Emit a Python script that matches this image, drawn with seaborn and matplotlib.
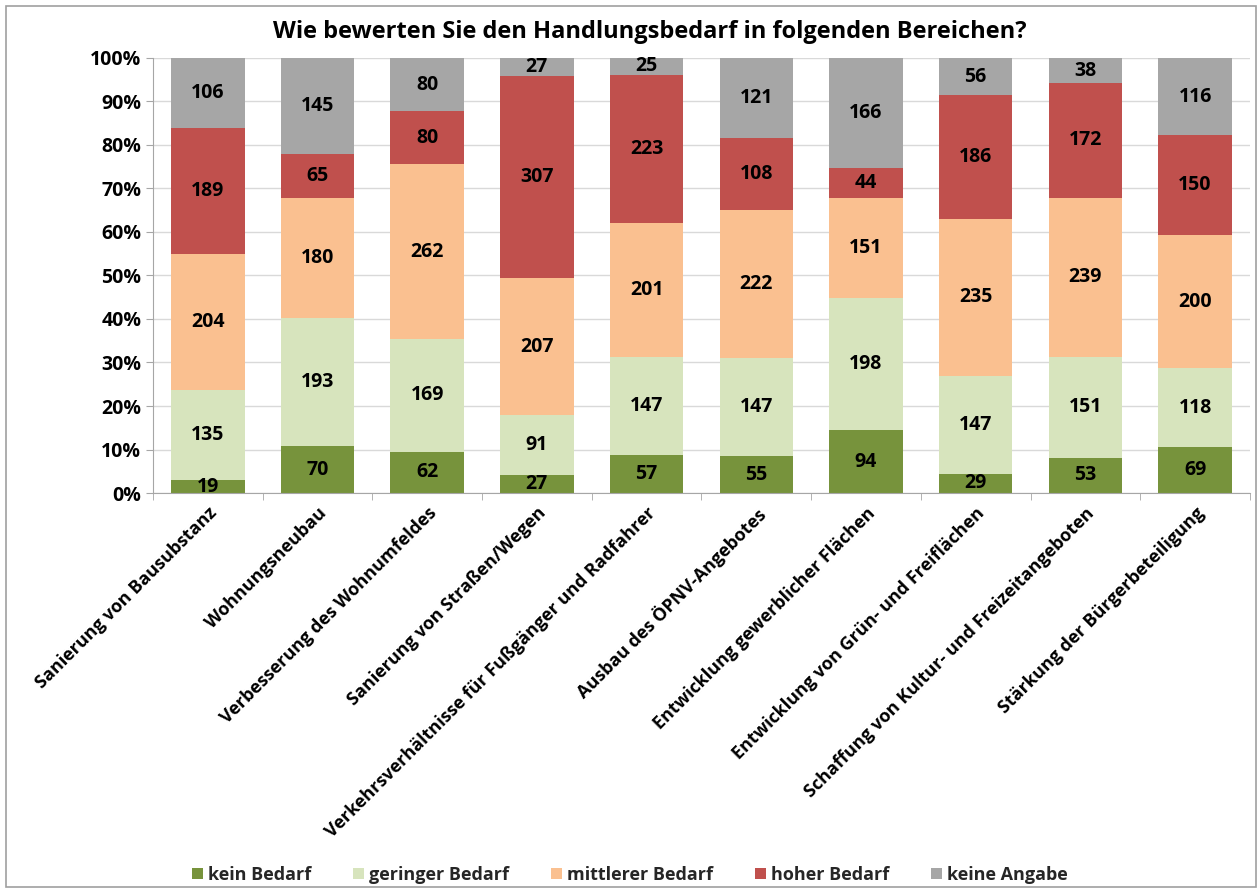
import numpy as np
import pandas as pd
import matplotlib
matplotlib.use("Agg")
import matplotlib.pyplot as plt
import seaborn as sns
from matplotlib.patches import Rectangle
from matplotlib.ticker import PercentFormatter

# Categories and counts per answer
categories = [
    "Sanierung von Bausubstanz",
    "Wohnungsneubau",
    "Verbesserung des Wohnumfeldes",
    "Sanierung von Straßen/Wegen",
    "Verkehrsverhältnisse für Fußgänger und Radfahrer",
    "Ausbau des ÖPNV-Angebotes",
    "Entwicklung gewerblicher Flächen",
    "Entwicklung von Grün- und Freiflächen",
    "Schaffung von Kultur- und Freizeitangeboten",
    "Stärkung der Bürgerbeteiligung",
]
series_names = ["kein Bedarf", "geringer Bedarf", "mittlerer Bedarf",
                "hoher Bedarf", "keine Angabe"]
kein = [19, 70, 62, 27, 57, 55, 94, 29, 53, 69]
gering = [135, 193, 169, 91, 147, 147, 198, 147, 151, 118]
mittel = [204, 180, 262, 207, 201, 222, 151, 235, 239, 200]
hoch = [189, 65, 80, 307, 223, 108, 44, 186, 172, 150]
keine = [106, 145, 80, 27, 25, 121, 166, 56, 38, 116]
colors = ["#77933C", "#D7E4BD", "#FAC090", "#C0504D", "#A6A6A6"]

counts = pd.DataFrame(
    {"kein Bedarf": kein, "geringer Bedarf": gering, "mittlerer Bedarf": mittel,
     "hoher Bedarf": hoch, "keine Angabe": keine},
    index=categories,
)
shares = counts.div(counts.sum(axis=1), axis=0)

sns.set_style("white")
plt.rcParams["font.family"] = ["Open Sans", "DejaVu Sans"]
plt.rcParams["font.weight"] = "bold"

fig = plt.figure(figsize=(12.6, 8.9), dpi=100)
ax = fig.add_axes([0.1214, 0.446, 0.8706, 0.489])

# Stack the series one on top of the other
bottom = np.zeros(len(categories))
for name, col in zip(series_names, colors):
    sns.barplot(x=categories, y=shares[name].values, bottom=bottom, color=col,
                width=0.67, ax=ax, label=name, saturation=1, linewidth=0)
    ax.bar_label(ax.containers[-1], labels=counts[name].values,
                 label_type="center", fontsize=14, fontweight="bold", color="black")
    bottom = bottom + shares[name].values

handles, labels = ax.get_legend_handles_labels()
if ax.get_legend() is not None:
    ax.get_legend().remove()

ax.set_ylim(0, 1)
ax.set_xlim(-0.5, len(categories) - 0.5)
ax.set_yticks(np.linspace(0, 1, 11))
ax.yaxis.set_major_formatter(PercentFormatter(1.0, decimals=0))
ax.yaxis.grid(True, color="#D9D9D9", linewidth=1)
ax.set_axisbelow(True)
for s in ["top", "right"]:
    ax.spines[s].set_visible(False)
for s in ["left", "bottom"]:
    ax.spines[s].set_color("#A6A6A6")
ax.tick_params(axis="y", labelsize=14, length=5, color="#A6A6A6", left=True,
               labelcolor="black")
ax.set_xticks(range(len(categories)))
ax.set_xticklabels(categories, rotation=45, ha="right", rotation_mode="anchor",
                   fontsize=13, fontweight="bold", color="black")
ax.tick_params(axis="x", length=0, pad=8)
ax.set_xticks(np.arange(-0.5, len(categories), 1), minor=True)
ax.tick_params(axis="x", which="minor", length=5, color="#A6A6A6", bottom=True)
for lab in ax.get_yticklabels():
    lab.set_fontweight("bold")

fig.text(0.516, 0.964, "Wie bewerten Sie den Handlungsbedarf in folgenden Bereichen?",
         ha="center", va="center", fontsize=17, fontweight="bold", color="black")

fig.legend(handles, labels, loc="center", bbox_to_anchor=(0.50, 0.017), ncol=5,
           frameon=False, fontsize=13, handlelength=0.6, handleheight=0.6,
           handletextpad=0.3, columnspacing=2.3)

fig.patches.append(Rectangle((0.005, 0.003), 0.992, 0.99, transform=fig.transFigure,
                             fill=False, edgecolor="#A0A0A0", linewidth=1.2))

fig.savefig("out.png", dpi=100)
